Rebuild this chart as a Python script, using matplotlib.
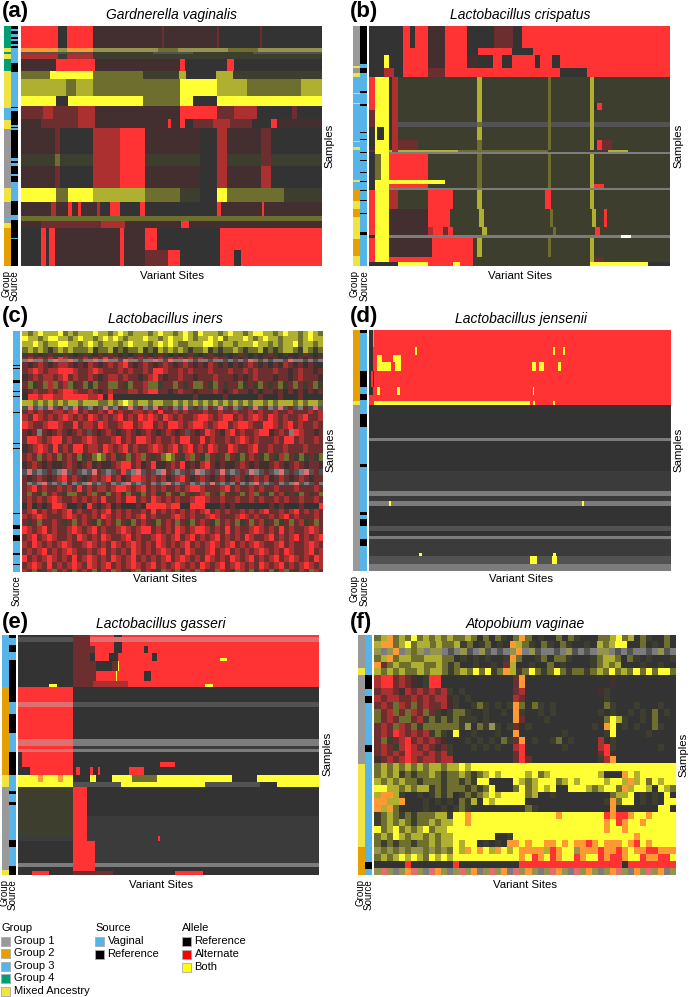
"""Six allele heatmaps with group and source strips, values read by eye from the figure."""

import numpy as np
import matplotlib
matplotlib.use("Agg")
import matplotlib.pyplot as plt
from matplotlib.colors import ListedColormap
from matplotlib.patches import Rectangle

plt.rcParams['font.family'] = ['Liberation Sans', 'DejaVu Sans']

# cell codes: pure alleles plus averaged colours for areas too fine to read site by site
cell_colors = {
    'k': '#333333', 'r': '#ff3333', 'y': '#ffff33', 'e': '#432f2f', 'd': '#6c2e2e',
    'm': '#ac3030', 'f': '#3e3e2f', 'o': '#6e6e2f', 'l': '#b0b030', 'p': '#ff9933',
    'w': '#7c7c7c', 'g': '#525252', 'q': '#3b3b3b', 'h': '#94944f', 's': '#e07070',
    'W': '#ffffff',
}
strip_colors = {'s': '#999999', 'o': '#e69f00', 'b': '#56b4e9', 'g': '#009e73',
                'M': '#f0e442', 'k': '#000000'}

# (a) Gardnerella vaginalis
a_group_cat = list("gMgMgMbMsMsbsMo")
a_group_n = [23, 4, 2, 5, 12, 37, 12, 9, 59, 14, 16, 2, 3, 5, 38]
a_source_cat = list("kb" * 15 + "k")
a_source_n = [4, 2, 3, 3, 2, 2, 3, 2, 2, 15, 8, 35, 1, 3, 14, 2, 1, 2, 27, 3, 2, 3, 8, 2, 6, 19, 14, 5, 17, 1, 27]
a_heights = [23, 4, 2, 5, 12, 8, 17, 10, 13, 9, 26, 12, 22, 14, 14, 5, 7, 22, 16]
a_rows = [
    "r37 k9 r26 e69 d2 e53 d2 k41 d2 k58",
    "p37 h9 p26 h65 o20 h50 o30 h84",
    "g72 f60 g40 f60 g69",
    "m37 f9 m26 f229",
    "e35 r39 e85 r5 k42 r7 k123",
    "o29 y43 o50 f36 l7 k30 l17 f89",
    "l45 o10 l17 o87 y37 l30 o54 l21",
    "y35 k12 y75 o37 y13 k24 y105",
    "d22 m10 d25 m17 e85 r37 d17 m23 k35 d5 k25",
    "e20 d37 m17 e73 r3 e9 r5 k8 d20 m17 d22 k19 r6 e45",
    "e34 d5 k33 m27 r25 e55 k17 m10 e34 d10 k51",
    "f34 o5 f33 m27 r25 f55 k17 m10 f34 d10 f51",
    "e34 d5 k33 m27 r25 e55 k17 m10 e34 m10 k51",
    "y35 o12 y25 l27 l25 o35 f20 k17 y10 o57 f38",
    "e30 m5 e12 r4 e6 r3 e16 m3 k10 r10 k13 k7 r5 k72 r4 e41 r2 e58",
    "o301",
    "e20 d60 m24 e56 r8 e133",
    "k20 r5 k3 r6 e65 r4 e21 r12 k63 r102",
    "k20 r5 k3 r6 e65 r4 e21 d23 r12 k40 r14 k7 r81",
]

# (b) Lactobacillus crispatus
b_group_cat = list("sMsM" + "bMbMbMbMbMb" + "oMoMoM")
b_group_n = [41, 2, 5, 4, 16, 1, 9, 1, 37, 1, 5, 3, 30, 2, 7, 12, 8, 8, 22, 17, 10]
b_source_cat = list("kb" * 14)
b_source_n = [39, 4, 5, 18, 2, 11, 2, 26, 1, 6, 1, 12, 1, 7, 1, 11, 1, 8, 1, 8, 1, 9, 1, 12, 1, 18, 3, 31]
b_heights = [23, 7, 13, 9, 26, 7, 12, 5, 13, 10, 2, 2, 26, 4, 4, 2, 19, 18, 8, 3, 19, 5, 4]
b_rows = [
    "k34 r7 k5 r13 e17 r22 k27 d19 k9 r148",
    "k34 r25 e17 r22 k11 r34 k21 r137",
    "k15 y5 k14 r25 e17 r22 e11 k15 r9 k10 r23 k5 r12 k8 r110",
    "k15 m10 k9 r25 d17 r115 k27 r83",
    "r6 y14 k3 m6 f79 l5 f66 o3 f39 l4 f76",
    "r6 y14 k3 m6 f79 l5 f66 o3 f39 l4 k3 r5 f68",
    "d6 y14 k3 m6 f79 l5 f66 o3 f39 l4 f76",
    "d6 y14 k3 m6 g79 o5 g66 o3 g39 l4 g76",
    "k6 y2 k7 y5 k3 m6 f79 l5 f66 o3 f39 l4 f76",
    "k6 y14 k3 m6 d20 f59 o5 f66 o3 f39 l4 k3 r5 d10 f58",
    "d6 y14 l3 m6 l60 o90 f60 l20 f42",
    "k6 y14 w281",
    "k6 o6 y8 r39 f49 o5 f66 o3 f39 l4 f76",
    "k6 y70 f32 o5 f66 o3 f39 l4 f76",
    "k6 y14 r39 f49 o5 f66 o3 f39 l4 r10 f66",
    "k6 y14 w281",
    "r6 y14 m9 f30 r25 f24 l5 f63 r6 f39 l4 f76",
    "r6 y14 e39 r22 f29 l5 f66 o3 f39 l4 f8 r3 f63",
    "r6 y14 e39 m5 r10 d5 r5 f29 l5 f66 o3 f39 r5 f75",
    "k6 y14 w232 W10 w39",
    "r6 y14 e43 r41 f4 l5 f66 o3 f39 l4 f76",
    "r6 y14 r84 f117 l4 d10 f66",
    "k29 y30 r25 y7 r13 f117 y58 k22",
]

# (c) Lactobacillus iners, no group strip
c_source_cat = list("bk" * 13 + "b")
c_source_n = [35, 1, 2, 1, 11, 3, 8, 1, 4, 1, 15, 1, 30, 1, 4, 1, 63, 1, 11, 4, 6, 6, 12, 2, 9, 1, 7]
c_heights = [5, 4, 6, 5, 4, 2, 3, 5, 6, 6, 7, 5, 6, 5, 4, 3, 7, 7, 7, 7, 8, 8, 7, 6, 6, 3, 6, 4, 6, 6, 5, 4, 7, 7, 6, 7, 6, 7, 6, 3]
c_rows = [
    "lolylllyololllyllolylolllolyllolyloylllolyllolyyllolyllolylo",
    "yllolyyllolyllolylylolllyllolyllylollylyolllylolyllolllolyll",
    "llylollyyllolylolllolylllolylyloolllyylollolllyllolollyollol",
    "ololofololooolfoolfofoolfoflololofoolfofoolofoolfofolloflofo",
    "fdfefdffdfkfdfedfdfefkfdfefdfkfefdfkfdfefkfdfkfefdfkfekfdfkf",
    "dmdmdmdrmdddmdmdrdmddmdmdmdmdmdmdmdmddmddedededededeedededed",
    "wswwgwswwswgwwswswwgswwgwwswgswwswgwwgwwgwgwgswgwgwwgswwgwgw",
    "dedmdedmmdedemdedmdmrdedmdedmdedmdedemdedkdedmdedkdemdedkdek",
    "dmrmdmmrrrmddmrmdddmdmddmdrrmddmdmdddmdddmddmdmdddmddedmdded",
    "edmdmmdmrdmddmdedmmdmddedmrdeddmddedddmdddededmdddeddedmddde",
    "dofdomodmofdofoddoodfoddmoofddodfdoodfodfddofdfodfdofdodfdof",
    "edmddmdmrrmddmdedmdddmmdmrrddedmddedddmdedmddedkddedkdedkded",
    "krrmrrmmrrrrrmmrkrkkkkkkkkkkkkkkkkdkkkkkdkkkkkkdkkkdkkkdkkkk",
    "llolololollollloololylollolloololololololololollololllolollo",
    "gsgwgsgdwgsdgwdgsgwdgsgdwgsdgdwgsgdgwdgsgdwgdgsgdwgsgdgwdgsg",
    "dmdmddmmdmrdmddmdrdmddmmdmdrddmdmdddmddmddmddmdmddmddmdddmdm",
    "mdrmdmdmrmdmdrmdmdmrdmdrmrmdrmdmddmrrmdmrrdmdmrmdrmdmddmrddm",
    "rmddmrrmddrdmmdrmddmrrdmrrdmdrrmdmrrmdmrrdmrrmddrrmdmrdmddmd",
    "dedwdedmdedmdgdedmdedmdedmdedmdedgdedrmdemrdmddmrredmdwrmdded",
    "drrmdmrrdmddmrmdddmrdmdrrmdmddmdrrddrdmddmdmrmdmdddmdrrdmddmd",
    "edmrmdrdmdrrdmmdrmdmrdmddmrmdmrdmrdmdrmddrmddmrddmddmdddmddd",
    "dmdodmdodmdofdolodmfdodmodfdolodfmodfodfdodfodmdfodfmodfofdfo",
    "edmdedeedmdedmedeedmrrdmedreedmdredemrdedeedmdedeedmdedmdedde",
    "gsgwgdgwsgdgwgsdgwgdrgwsgdgwsdgwgdgswgdgsgwgdgswgdgwsgdgwsgdg",
    "dedmdedmrdmdedmdmrdmedrrmdmdmedmrdedmdedmedmdedmdmedmdedmdedd",
    "dwgwsgwgwdwgwsgwgdwgwsgwgdwgwsgwgdwgwgsgwgwdwgwsgwgdwgwsgwgdw",
    "dmrdmddmdmdrdmdmmdmrrmdmrdmdmddmdmrrmdddmrdmddmdmddmdddmdddmd",
    "dodfodmdfoodfmodfodmfodfodmfdodfodfdmodfodfdodmodfodmfdfodfdo",
    "dmdmdmrmddmdmdmdrddmdrrdmdrmdmdmddmrrmddmddmddmdmddmdmddmddmd",
    "kmkdkdrrmkkdkrdkdmkdkkkdkrrrrmrrkkrrrkkkdkdkkkkkkkdkdkkkdkkkr",
    "dmrdmdmdmrdmddmdmrdmdmddmdrdmdmdmdmdmrdmdmddmdmdmrddmdmrdmdmd",
    "mdmrmdddmrmdmdmdrmdmdmdmrdmdddmrmdmddmrmdddmrmdmddmdmrdmdddmd",
    "dfdoddmdfdodmdfodmdodfodmdfodmdodfodmdfodmdofdodmfdofdodmfdod",
    "rmdmrdmddmrmdmrdmddmrmdmrrdmdmdrmdmrrmdmdrdmddmrmdmdrdmddmrmd",
    "dmrdmrmddmdrmdmdrmddmrdmddmrmdmrdmrdmdmrdmdmdrmddmrdmdmrdmdmr",
    "mdrmdmdmrmddmrmdmdrmdmrmdmdrmdmdmrdmdmrmdmrdmdmrmddmrdmddmrmd",
    "dmdmrdmdmrmddmdmrdmdmdrmdmdmrmdmdrmddmrdmrdmdmdmrmdmdrmddmrdm",
    "rdmdmrmdmdrdmrmdmdrmdmrdmdmdmrdmrmdmdrmdmdrmdmrdmdmrdmrmdmdrm",
    "dmrmdrdmdmrmdrmdmrdmdmrmdmrdmdmrmdmdrmdmrdmrmdmdrmdmrdmdmrmdm",
    "mdofdmodmfodmdofmdomdfmodmdfomdofmdomfdomdfomdofmdofmodfmdomd",
]

# (d) Lactobacillus jensenii
d_group_cat = list("oMs")
d_group_n = [71, 4, 166]
d_source_cat = list("kb" * 8)
d_source_n = [3, 38, 16, 7, 6, 14, 13, 37, 3, 45, 3, 4, 7, 13, 7, 25]
d_heights = [17, 8, 7, 9, 16, 8, 6, 4, 33, 3, 30, 5, 15, 5, 5, 5, 20, 5, 5, 3, 14, 3, 8, 7]
d_rows = [
    "k4 p1 r296",
    "k4 r42 y2 r135 y2 r8 y2 r106",
    "k4 r4 y5 r11 y8 r269",
    "k4 r4 y14 r4 y6 r130 y4 r3 y5 r14 y3 r110",
    "k2 r2 k1 r296",
    "k4 r4 y3 r17 y3 r132 y1 r137",
    "r301",
    "r5 y155 r3 y2 r18 y2 r116",
    "k301",
    "w301",
    "k301",
    "q301",
    "q301",
    "w301",
    "q301",
    "w20 y2 w190 y2 w87",
    "k301",
    "g301",
    "k301",
    "w301",
    "q301",
    "q50 y3 q130 y3 q115",
    "g160 y7 g15 y5 g114",
    "w301",
]

# (e) Lactobacillus gasseri
e_group_cat = list("boMsM")
e_group_n = [53, 88, 12, 83, 5]
e_source_cat = list("kb" * 8 + "k")
e_source_n = [4, 7, 7, 8, 42, 12, 19, 19, 23, 16, 3, 8, 3, 35, 7, 19, 9]
e_heights = [3, 5, 4, 7, 5, 3, 10, 10, 3, 3, 15, 5, 32, 7, 3, 3, 10, 5, 8, 7, 5, 29, 20, 5, 22, 4, 4, 4]
e_rows = [
    "k55 d17 r24 k8 r197",
    "g55 d17 s32 s197",
    "k55 d17 r24 k8 r197",
    "k55 d22 r19 k8 r22 k4 r171",
    "k55 d17 k5 r14 k9 r34 k5 r162",
    "k55 d17 k5 r14 k9 r34 k5 r63 y7 r92",
    "k55 d23 k16 d6 y1 r200",
    "k55 d23 r20 y1 r27 k7 r168",
    "k55 d20 m35 r191",
    "k31 y8 k16 d20 m35 r77 y8 r106",
    "r55 k246",
    "s55 g246",
    "r55 k246",
    "s55 w246",
    "r55 q246",
    "s55 w246",
    "k4 r51 k246",
    "k4 r51 k87 r15 k144",
    "k12 r43 k3 r4 k10 r3 k5 r2 k29 r15 k175",
    "y20 p5 y15 p5 y10 k17 y6 k16 y20 o25 y75 k25 y62",
    "y55 g48 y84 g55 k17 y42",
    "f55 r14 k232",
    "f55 r14 q232",
    "q55 r14 q71 r2 q159",
    "k55 r22 q224",
    "w55 r22 w224",
    "k55 r22 k224",
    "k14 r17 k24 d40 k62 r28 k116",
]

# (f) Atopobium vaginae
f_group_cat = list("sMsMo")
f_group_n = [34, 7, 89, 83, 28]
f_source_cat = list("bkbkbkbkb")
f_source_n = [41, 14, 7, 7, 42, 7, 110, 7, 6]
f_heights = [7, 7, 7, 7, 6, 7, 13, 7, 7, 7, 7, 7, 7, 7, 7, 7, 6, 7, 8, 7, 7, 7, 6, 7, 7, 7, 7, 7, 7, 7, 7, 7, 7, 7]
f_rows = [
    "olpoloyolololoolokokofkopokfkkokofkkkoolyolkofkkok",
    "lppolyolloloolfokfokfkplofkofkofkkfklolyykkokfkok",
    "hwhpwhohwhhwgwhgwhgwgwhpwhgwwgwhgwgwhhwgwgwwgwhgw",
    "olpolloolllookfkfkfkkfpokkfokoofkkkfollokofkfkkkf",
    "pdoloolloolofokkfkkfkdlkkfkkokfkkkkfololkkkfkkfkk",
    "lololoolollofoloyoyfoplfoyofoyofoofoloyoloyoyoyyo",
    "mrrdmdekfrrkkkkkkkkkkkkdpkkkkkkkkkkkkkkekkkkkkkkkk",
    "dmmdemdmdmdmfkfkkkkkkkkdmkkkkkkkkkkkkefkkkkkkkkkkk",
    "mdmmddmdmdmmefkfkkkkkkkmdkkkkkkkkkkkkkfkkkkkkkkkkk",
    "dmdomdodmddmefkkfofkfkfpokofkfkkkkkkkkofkkkfkkkfkk",
    "odmodomdodfkfoofkkfkkfkpfkkfkfkkkkkkkfkfkkfkfkokfk",
    "odmdoodmfofofofffkfkkkkpdkkkfkkkkkkkkkoylfkkfkokkk",
    "dmdomdofoooooofhkofhfkfdkfkkkkkkkkkkfkpykfkfkkofkk",
    "dmdrmdmdmfofkykkfkkkfkkpkkkkkkkfkkkkkkfykkkkkfkkkk",
    "dofdmrdmdmdekkkfkfkfkofdpkfkkfokfkkkkmkfkkkkkkkkkk",
    "dmdfmrmdmdedfkkkfkfkfkkmrkkkkkkfkkkkkmrfkkkkkkkfkk",
    "dmdmdrmmdmdmfkkkkkkkkkkdrkkkkkkkkkkkkdrekkkkkkkkkk",
    "edmdmrmdmmdmmkkkkkkkkkkdrdkkkkkkkkkkkfmpkkkkkkkkkk",
    "ololololollollylyyyyyyyyyyyyyyyyyyyyyyyyyyyyyyyyyy",
    "ololfofoolofoolofolylyyyylyolyyyyyyyylkkkpylyyyyyy",
    "lololoofooofoofofyykkkkylolyyyolylyyyylyylplyoylyy",
    "yyllolollfofooofofoykkkoyolylykkyyylolyyoplyylkylo",
    "lpplfkkfkfofokfofolylyyyyolkkfkkkkkkkkkollykfkfkyk",
    "ppllpkkkfkfkfkoflkylyyyyykkkkkkkkkkkkkfpoyykfkfkyy",
    "plpokkkkfkkfkfofkkkkkkkkkofkkkkkkkkkkkkpkkkkkkkyyk",
    "folofofooollfyypyyyyyyyyyyyyyypyyyyyyyrprrpyypyyyy",
    "fololofoolollyypyyyyyyyyyyyyyyyyyyyyyypyrpyypyyyyy",
    "yolyololyollyyyyyyyyyyyyyyyyyyyyyyyyyypyypyyyyyyyy",
    "oloylollolollyyyyyyykkfyyyyyyyyyyyyyyyyyyyypyyyyyy",
    "ofofoofoolollylyykfkfkppypyyppypypprpypppyprypyyyy",
    "hohohohhohohoylpypylpylypppplrpyyhppprpprpypprrppp",
    "ololylyloylylyyyyyyyyyyypyrpyrpyyrpyyrprrpyyrpprry",
    "kkkkkrkkkkkkkrkkkkkkkkkkrrrrrrrrrrrrrrrrrkrrrrrrrr",
    "hshwhpshwsphwhshpwhshpwshphwhsphwshphwhpshwphshpwh",
]

W, H = 689, 997
fig = plt.figure(figsize=(W / 100, H / 100), dpi=100)

codes = list(cell_colors)
heat_cmap = ListedColormap([cell_colors[c] for c in codes])


def px_axes(x0, y0, x1, y1):
    ax = fig.add_axes([x0 / W, 1 - y1 / H, (x1 - x0) / W, (y1 - y0) / H])
    ax.axis('off')
    return ax


def expand_row(spec, width=301):
    # "r37 k9" gives runs in pixels, a plain string gives equal cells
    if ' ' in spec or spec[1:].isdigit():
        out = []
        for tok in spec.split():
            out += [tok[0]] * int(tok[1:])
        out = (out + [out[-1]] * width)[:width]
    else:
        idx = (np.arange(width) * len(spec) / width).astype(int)
        out = [spec[i] for i in idx]
    return [codes.index(c) for c in out]


def draw_heat(box, heights, rows):
    ax = px_axes(*box)
    matrix = np.array([expand_row(r) for r in rows])
    matrix = np.repeat(matrix, heights, axis=0)
    ax.imshow(matrix, cmap=heat_cmap, vmin=-0.5, vmax=len(codes) - 0.5,
              aspect='auto', interpolation='nearest')


def draw_strip(box, cats, counts):
    ax = px_axes(*box)
    names = list(strip_colors)
    cmap = ListedColormap([strip_colors[n] for n in names])
    col = np.repeat([names.index(c) for c in cats], counts).reshape(-1, 1)
    ax.imshow(col, cmap=cmap, vmin=-0.5, vmax=len(names) - 0.5,
              aspect='auto', interpolation='nearest')


# heat box, group strip x, source strip x
draw_heat((21, 25.7, 322, 266), a_heights, a_rows)
draw_strip((4, 25.7, 11, 266), a_group_cat, a_group_n)
draw_strip((11, 25.7, 18, 266), a_source_cat, a_source_n)

draw_heat((369, 25.7, 670, 266), b_heights, b_rows)
draw_strip((353, 25.7, 360, 266), b_group_cat, b_group_n)
draw_strip((360, 25.7, 367, 266), b_source_cat, b_source_n)

draw_heat((22, 331, 323, 572), c_heights, c_rows)
draw_strip((13, 331, 20, 572), c_source_cat, c_source_n)

draw_heat((369, 330, 671, 571), d_heights, d_rows)
draw_strip((353, 330, 360, 571), d_group_cat, d_group_n)
draw_strip((360, 330, 367, 571), d_source_cat, d_source_n)

draw_heat((18, 635, 319, 875.5), e_heights, e_rows)
draw_strip((2, 635, 9, 875.5), e_group_cat, e_group_n)
draw_strip((9, 635, 16, 875.5), e_source_cat, e_source_n)

draw_heat((374, 635, 676, 875.5), f_heights, f_rows)
draw_strip((358, 635, 365, 875.5), f_group_cat, f_group_n)
draw_strip((365, 635, 372, 875.5), f_source_cat, f_source_n)

# everything else goes on a full figure axes in pixel coordinates
top = fig.add_axes([0, 0, 1, 1], zorder=5)
top.set_xlim(0, W)
top.set_ylim(H, 0)
top.axis('off')

titles = ["Gardnerella vaginalis", "Lactobacillus crispatus", "Lactobacillus iners",
          "Lactobacillus jensenii", "Lactobacillus gasseri", "Atopobium vaginae"]
letters = ["(a)", "(b)", "(c)", "(d)", "(e)", "(f)"]
title_x = [172, 520, 165, 521, 161, 525]
title_y = [15, 15, 319, 319, 624, 624]
letter_x = [2, 350, 2, 350, 2, 350]
letter_y = [11, 11, 316, 316, 622, 622]
sites_x = [172, 520, 165, 521, 161, 525]
sites_y = [276, 276, 579, 579, 885, 885]
samples_x = [329, 678, 330, 678, 327, 683]
samples_y = [146, 146, 450, 450, 754, 755]

for i in range(6):
    top.text(title_x[i], title_y[i], titles[i], style='italic', fontsize=10,
             ha='center', va='center')
    top.text(letter_x[i], letter_y[i], letters[i], fontweight='bold', fontsize=16,
             ha='left', va='center')
    top.text(sites_x[i], sites_y[i], "Variant Sites", fontsize=8.2, ha='center', va='center')
    top.text(samples_x[i], samples_y[i], "Samples", fontsize=8.2, rotation=90,
             ha='center', va='center')

source_x = [15, 365, 17, 365, 13, 369]
source_top = [270, 270, 575, 575, 879, 879]
group_x = [6, 355, None, 355, 4, 360]
group_top = [270, 270, None, 575, 879, 879]
for i in range(6):
    if group_x[i] is not None:
        top.text(group_x[i], group_top[i], "Group", fontsize=7, rotation=90,
                 ha='center', va='top')
    top.text(source_x[i], source_top[i], "Source", fontsize=7, rotation=90,
             ha='center', va='top')

legend_titles = ["Group", "Source", "Allele"]
legend_title_x = [1, 95, 182]
legend_labels = [["Group 1", "Group 2", "Group 3", "Group 4", "Mixed Ancestry"],
                 ["Vaginal", "Reference"],
                 ["Reference", "Alternate", "Both"]]
legend_colors = [['#999999', '#e69f00', '#56b4e9', '#009e73', '#f0e442'],
                 ['#56b4e9', '#000000'],
                 ['#000000', '#ff0000', '#ffff00']]
legend_rows = [[941, 953, 966, 978, 991], [941, 954], [941, 954, 967]]

for t, lx, labels, colors, rows in zip(legend_titles, legend_title_x, legend_labels,
                                       legend_colors, legend_rows):
    top.text(lx, 928, t, fontsize=8, ha='left', va='center')
    for lab, col, ry in zip(labels, colors, rows):
        top.add_patch(Rectangle((lx, ry - 4.5), 9, 9, facecolor=col, edgecolor='#aaaaaa', lw=0.6))
        top.text(lx + 12.5, ry, lab, fontsize=8, ha='left', va='center')

fig.savefig("out.png", dpi=100)
